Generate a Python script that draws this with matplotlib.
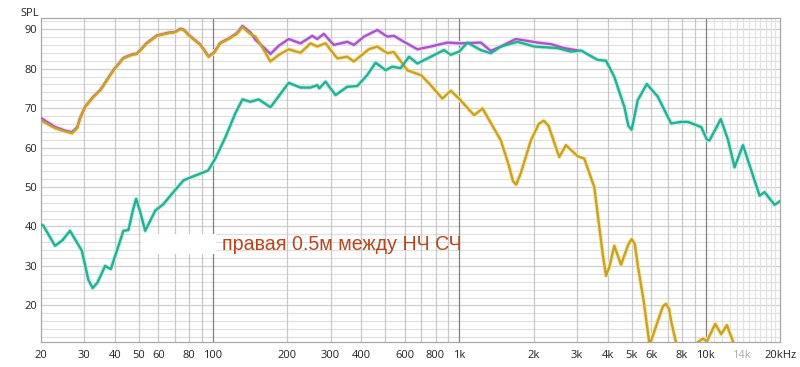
import matplotlib
matplotlib.use("Agg")
import matplotlib.pyplot as plt
from matplotlib.patches import Rectangle
import numpy as np

# ---------------- data ----------------
gold_f = [20, 20.6, 22.9, 25.1, 26.8, 28.1, 28.9, 30.3, 32.7, 35, 39.5, 43.3, 46.9, 49.1,
          53.9, 59.2, 66, 70, 73.7, 76, 80.9, 88.9, 96, 101, 107, 117.7, 125, 131.7, 141.8,
          148.7, 160, 171, 185, 203, 226.6, 248.8, 264.9, 286.2, 319.6, 350.7, 373, 429,
          464, 510, 542, 615, 700, 765, 853, 922, 997, 1147, 1241, 1383, 1473, 1587, 1650,
          1700, 1775, 1950, 2100, 2200, 2300, 2542, 2706, 3019, 3211, 3526, 3816, 3935, 4050,
          4254, 4529, 4850, 5005, 5150, 5300, 5600, 5884, 5940, 5995, 6383, 6700, 6901, 7100,
          7231, 7578, 8300, 9286, 9731, 10100, 10920, 11550, 12180, 12920, 13500]
gold_db = [67.0, 66.5, 64.9, 64.1, 63.6, 64.9, 67.4, 70.3, 72.8, 74.6, 79.6, 82.6, 83.5, 83.7,
           86.4, 88.3, 89.0, 89.2, 90.0, 89.8, 88.1, 86.0, 83.0, 84.0, 86.4, 87.8, 88.8, 90.5, 88.8,
           88.1, 85.0, 81.8, 83.5, 84.9, 84.0, 86.4, 85.6, 86.4, 82.6, 83.0, 81.8, 84.9,
           85.6, 83.9, 84.2, 79.6, 78.3, 75.8, 72.4, 74.4, 72.4, 68.2, 69.9, 64.8, 61.8, 55.5, 51.5,
           50.6, 53.5, 61.8, 66.0, 66.8, 65.5, 57.6, 60.6, 57.8, 57.2, 50.0, 33.0, 27.5, 29.5,
           35.1, 30.3, 35.5, 36.8, 35.5, 30.0, 21.0, 11.0, 7.0, 11.0, 16.0, 19.8, 20.4, 19.0,
           16.0, 10.5, 0.0, 10.7, 11.6, 10.9, 15.3, 12.7, 15.0, 10.7, 3.0]

purple_f = [20, 20.6, 22.9, 25.1, 26.8, 28.1, 28.9, 30.3, 32.7, 35, 39.5, 43.3, 46.9, 49.1,
            53.9, 59.2, 66, 70, 73.7, 76, 80.9, 88.9, 96, 101, 107, 117.7, 125, 131.7, 141.8,
            148.7, 160, 171.1, 185, 203, 226.6, 252.8, 264.9, 281.7, 309.4, 350.7, 373.2,
            409.8, 464.4, 510, 542.6, 595.7, 675.4, 764.9, 894.3, 1013, 1221, 1341, 1473,
            1695, 2076, 2352, 2663, 3019]
purple_db = [67.5, 67.0, 65.2, 64.3, 63.9, 65.1, 67.5, 70.4, 72.9, 74.7, 79.7, 82.7, 83.6, 83.8,
             86.5, 88.4, 89.1, 89.3, 90.1, 89.9, 88.2, 86.1, 83.1, 84.1, 86.5, 87.9, 89.0, 90.8, 89.2,
             87.3, 85.5, 83.7, 85.8, 87.5, 86.4, 88.3, 87.5, 88.8, 86.0, 86.8, 86.0,
             88.1, 89.8, 88.1, 88.3, 86.8, 84.9, 85.6, 86.6, 86.4, 86.6, 84.5, 85.6,
             87.5, 86.6, 86.2, 85.2, 84.6]

teal_f = [20, 20.5, 22.86, 24.5, 26.3, 29.4, 31.2, 32.5, 34, 36.5, 38.5, 43.3, 45.4, 47.5,
          48.8, 50.5, 53.1, 58.3, 63, 68.2, 76, 80.9, 88.9, 95.7, 102.2, 112.3, 123.3, 131.7,
          141.8, 153.4, 171.1, 203, 226.6, 248.8, 264.9, 270, 286.2, 314.4, 350.7, 385.3,
          422.9, 457, 502, 534.5, 577.6, 624.2, 675.4, 764.9, 866.3, 922.4, 997, 1078, 1221,
          1341, 1473, 1722, 2011, 2504, 2835, 3114, 3641, 3935, 4254, 4671, 4850, 5000, 5294,
          5759, 6383, 7231, 7941, 8454, 9577, 10100, 10350, 11500, 12300, 13080, 14150,
          16530, 17310, 19010, 20000]
teal_db = [40.5, 40.2, 35.1, 36.5, 38.9, 33.8, 26.5, 24.4, 25.8, 30.0, 29.2, 38.9, 39.1, 44.5,
           47.0, 44.0, 38.9, 44.0, 45.7, 48.3, 51.7, 52.4, 53.4, 54.2, 57.2, 62.6, 68.7, 72.2,
           71.6, 72.2, 70.2, 76.4, 75.2, 75.2, 75.8, 75.0, 76.7, 73.3, 75.4, 75.6,
           78.4, 81.5, 79.6, 80.5, 80.1, 83.0, 81.3, 83.0, 84.7, 83.5, 84.3, 86.6, 84.7,
           83.9, 85.6, 86.8, 85.6, 85.2, 84.3, 84.6, 82.2, 82.0, 77.9, 70.3, 65.5, 64.5, 72.0,
           76.1, 72.9, 66.1, 66.5, 66.5, 65.2, 62.0, 61.8, 67.2, 62.0, 55.0, 60.6,
           47.8, 48.7, 45.5, 46.4]

x_ticks = [20, 30, 40, 50, 60, 80, 100, 200, 300, 400, 600, 800, 1000, 2000, 3000,
           4000, 5000, 6000, 8000, 10000, 14000, 20000]
x_labels = ["20", "30", "40", "50", "60", "80", "100", "200", "300", "400", "600", "800",
            "1k", "2k", "3k", "4k", "5k", "6k", "8k", "10k", "14k", "20kHz"]
y_ticks = [20, 30, 40, 50, 60, 70, 80, 90]
annotation = "правая 0.5м между НЧ СЧ"

# ---------------- figure ----------------
plt.rcParams['font.family'] = ['Open Sans', 'DejaVu Sans']
fig = plt.figure(figsize=(8.0, 3.67), dpi=100)
ax = fig.add_axes([0.0509, 0.0689, 0.9241, 0.8807])
ax.set_xscale('log')
ax.set_xlim(20, 20000)
ax.set_ylim(10.8, 92.7)

# grid
for v in np.arange(12, 93, 2):
    ax.axhline(v, color='#cfcfcf' if v % 10 == 0 else '#e0e0e0', lw=0.9, zorder=0)
vlines = []
for dec in [10, 100, 1000]:
    for m in range(2, 10):
        vlines.append(dec * m)
for f in vlines:
    if f > 20:
        ax.axvline(f, color='#c8c8c8', lw=0.9, zorder=0)
for f in [100, 1000, 10000]:
    ax.axvline(f, color='#808080', lw=0.9, zorder=0.5)
for k in range(1, 12):
    ax.axvline(10000 * (1 + k / 12), color='#e2e2e2', lw=0.9, zorder=0)

# white box hiding part of the caption
ax.add_patch(Rectangle((0.1366, 0.272), 0.10, 0.06, transform=ax.transAxes,
                       facecolor='white', edgecolor='none', zorder=1))

# curves with soft glow
def curve(f, d, col, glow):
    ax.plot(f, d, color=glow, lw=3.2, solid_joinstyle='round', solid_capstyle='round',
            zorder=2, clip_on=True)
    ax.plot(f, d, color=col, lw=1.7, solid_joinstyle='round', solid_capstyle='round',
            zorder=3, clip_on=True)

curve(purple_f, purple_db, '#a856c6', '#ecd8f4')
curve(gold_f, gold_db, '#c9a02c', '#f6eaa8')
curve(teal_f, teal_db, '#27ae93', '#bff0e6')

ax.text(0.2457, 0.300, annotation, transform=ax.transAxes, fontsize=14.1,
        family=['Liberation Sans', 'DejaVu Sans'], color='#b8461c', va='center', ha='left',
        zorder=4)

ax.set_xticks(x_ticks)
ax.set_xticklabels(x_labels)
ax.set_xticks([], minor=True)
ax.set_yticks(y_ticks)
ax.tick_params(axis='both', length=0, labelsize=8, colors='#222222')
ax.tick_params(axis='x', pad=6)
ax.tick_params(axis='y', pad=2.5)
for lab in ax.get_xticklabels():
    if lab.get_text() == "14k":
        lab.set_color('#aaaaaa')
for s in ax.spines.values():
    s.set_color('#a8a8a8')
    s.set_linewidth(0.9)

fig.text(0.025, 0.978, "SPL", fontsize=8, color='#222222', va='top', ha='left')

fig.savefig("out.png", dpi=100)
